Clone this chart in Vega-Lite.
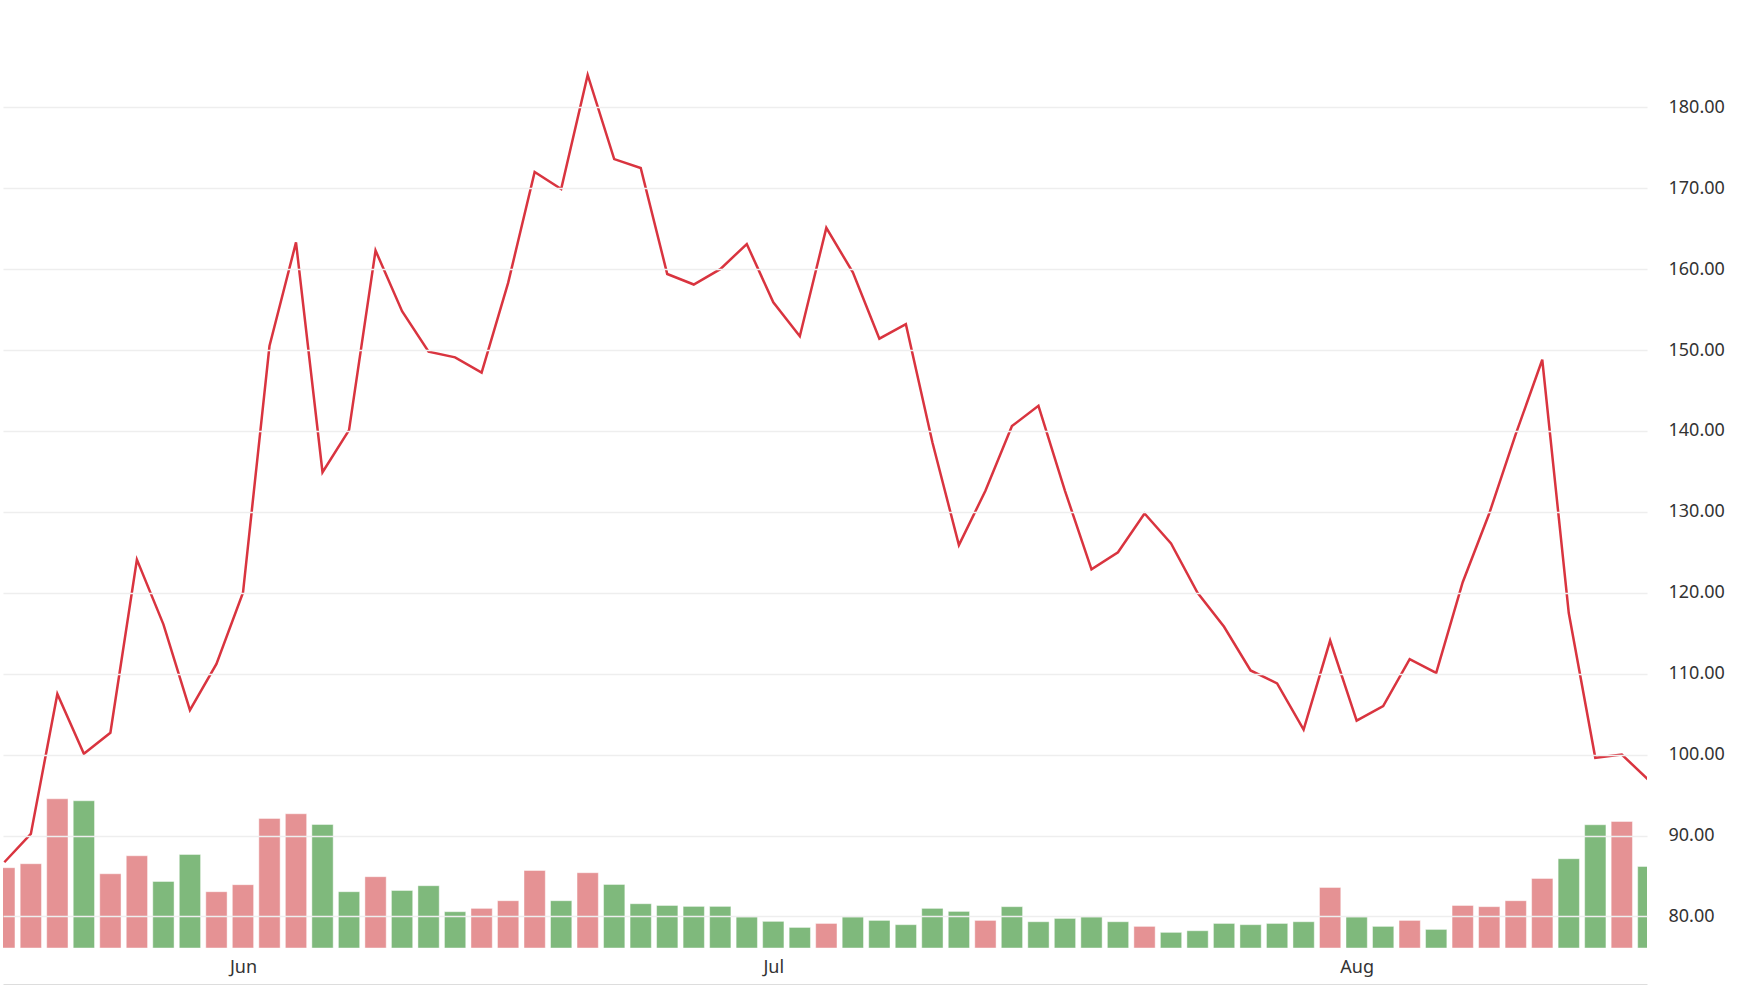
{
  "$schema": "https://vega.github.io/schema/vega-lite/v6.json",
  "width": 1644,
  "height": 948,
  "autosize": {"type": "none"},
  "padding": {"left": 3, "top": 0, "right": 93, "bottom": 41},
  "background": "#ffffff",
  "config": {
    "view": {"stroke": null},
    "font": "Noto Sans",
    "axis": {"labelFont": "Noto Sans", "labelFontSize": 18, "labelColor": "#333333"}
  },
  "data": {
    "values": [
      {"i": 0, "price": 86.7, "volume": 84.7, "dir": "up"},
      {"i": 1, "price": 90.2, "volume": 88.9, "dir": "up"},
      {"i": 2, "price": 107.5, "volume": 157.4, "dir": "up"},
      {"i": 3, "price": 100.1, "volume": 155.3, "dir": "down"},
      {"i": 4, "price": 102.7, "volume": 78.3, "dir": "up"},
      {"i": 5, "price": 124.1, "volume": 97.3, "dir": "up"},
      {"i": 6, "price": 116.1, "volume": 70.2, "dir": "down"},
      {"i": 7, "price": 105.5, "volume": 98.7, "dir": "down"},
      {"i": 8, "price": 111.2, "volume": 59.4, "dir": "up"},
      {"i": 9, "price": 120.0, "volume": 66.8, "dir": "up"},
      {"i": 10, "price": 150.5, "volume": 136.7, "dir": "up"},
      {"i": 11, "price": 163.3, "volume": 141.6, "dir": "up"},
      {"i": 12, "price": 134.9, "volume": 130.3, "dir": "down"},
      {"i": 13, "price": 140.1, "volume": 59.4, "dir": "down"},
      {"i": 14, "price": 162.3, "volume": 75.2, "dir": "up"},
      {"i": 15, "price": 154.8, "volume": 60.7, "dir": "down"},
      {"i": 16, "price": 149.8, "volume": 65.7, "dir": "down"},
      {"i": 17, "price": 149.1, "volume": 38.3, "dir": "down"},
      {"i": 18, "price": 147.2, "volume": 41.8, "dir": "up"},
      {"i": 19, "price": 158.3, "volume": 49.9, "dir": "up"},
      {"i": 20, "price": 172.0, "volume": 81.8, "dir": "up"},
      {"i": 21, "price": 169.9, "volume": 49.9, "dir": "down"},
      {"i": 22, "price": 184.0, "volume": 79.4, "dir": "up"},
      {"i": 23, "price": 173.6, "volume": 67.1, "dir": "down"},
      {"i": 24, "price": 172.5, "volume": 46.7, "dir": "down"},
      {"i": 25, "price": 159.4, "volume": 44.9, "dir": "down"},
      {"i": 26, "price": 158.1, "volume": 43.9, "dir": "down"},
      {"i": 27, "price": 160.0, "volume": 43.9, "dir": "down"},
      {"i": 28, "price": 163.1, "volume": 32.7, "dir": "down"},
      {"i": 29, "price": 155.9, "volume": 28.1, "dir": "down"},
      {"i": 30, "price": 151.7, "volume": 21.7, "dir": "down"},
      {"i": 31, "price": 165.1, "volume": 25.9, "dir": "up"},
      {"i": 32, "price": 159.6, "volume": 32.7, "dir": "down"},
      {"i": 33, "price": 151.4, "volume": 29.1, "dir": "down"},
      {"i": 34, "price": 153.2, "volume": 24.6, "dir": "down"},
      {"i": 35, "price": 138.6, "volume": 41.8, "dir": "down"},
      {"i": 36, "price": 125.9, "volume": 38.6, "dir": "down"},
      {"i": 37, "price": 132.6, "volume": 29.1, "dir": "up"},
      {"i": 38, "price": 140.6, "volume": 43.6, "dir": "down"},
      {"i": 39, "price": 143.1, "volume": 27.7, "dir": "down"},
      {"i": 40, "price": 132.6, "volume": 31.2, "dir": "down"},
      {"i": 41, "price": 122.9, "volume": 32.7, "dir": "down"},
      {"i": 42, "price": 125.0, "volume": 27.7, "dir": "down"},
      {"i": 43, "price": 129.8, "volume": 22.8, "dir": "up"},
      {"i": 44, "price": 126.1, "volume": 16.5, "dir": "down"},
      {"i": 45, "price": 120.0, "volume": 18.2, "dir": "down"},
      {"i": 46, "price": 115.8, "volume": 25.9, "dir": "down"},
      {"i": 47, "price": 110.4, "volume": 24.6, "dir": "down"},
      {"i": 48, "price": 108.8, "volume": 25.9, "dir": "down"},
      {"i": 49, "price": 103.1, "volume": 27.7, "dir": "down"},
      {"i": 50, "price": 114.1, "volume": 63.9, "dir": "up"},
      {"i": 51, "price": 104.2, "volume": 32.7, "dir": "down"},
      {"i": 52, "price": 106.0, "volume": 22.8, "dir": "down"},
      {"i": 53, "price": 111.8, "volume": 29.1, "dir": "up"},
      {"i": 54, "price": 110.1, "volume": 19.6, "dir": "down"},
      {"i": 55, "price": 121.3, "volume": 44.9, "dir": "up"},
      {"i": 56, "price": 129.8, "volume": 43.6, "dir": "up"},
      {"i": 57, "price": 139.6, "volume": 49.9, "dir": "up"},
      {"i": 58, "price": 148.8, "volume": 73.4, "dir": "up"},
      {"i": 59, "price": 117.5, "volume": 94.2, "dir": "down"},
      {"i": 60, "price": 99.6, "volume": 130.0, "dir": "down"},
      {"i": 61, "price": 100.0, "volume": 133.5, "dir": "up"},
      {"i": 62, "price": 96.9, "volume": 86.0, "dir": "down"}
    ]
  },
  "encoding": {
    "x": {
      "field": "i",
      "type": "quantitative",
      "scale": {"domain": [-0.05, 61.95], "nice": false, "zero": false, "padding": 0},
      "axis": {
        "values": [9, 29, 51],
        "labelExpr": "datum.value == 9 ? 'Jun' : datum.value == 29 ? 'Jul' : 'Aug'",
        "title": null,
        "grid": false,
        "ticks": false,
        "domain": true,
        "domainColor": "#dddddd",
        "domainWidth": 1,
        "offset": 36,
        "labelPadding": -26,
        "labelFlush": false,
        "labelOverlap": false
      }
    }
  },
  "layer": [
    {
      "mark": {"type": "bar", "size": 21.3, "clip": true, "stroke": "#ffffff", "strokeOpacity": 0.45, "strokeWidth": 1},
      "encoding": {
        "y": {
          "field": "volume",
          "type": "quantitative",
          "scale": {"domain": [0, 1000], "nice": false},
          "axis": null
        },
        "color": {
          "field": "dir",
          "type": "nominal",
          "scale": {"domain": ["up", "down"], "range": ["#e59294", "#7fb97c"]},
          "legend": null
        }
      }
    },
    {
      "mark": {"type": "line", "color": "#d9343f", "strokeWidth": 2.5, "clip": true},
      "encoding": {
        "y": {
          "field": "price",
          "type": "quantitative",
          "scale": {"domain": [76.1, 193.26], "nice": false, "zero": false},
          "axis": {
            "orient": "right",
            "values": [80, 90, 100, 110, 120, 130, 140, 150, 160, 170, 180],
            "format": ".2f",
            "title": null,
            "ticks": false,
            "domain": false,
            "grid": true,
            "gridColor": "#eeeeee",
            "gridWidth": 1.5,
            "labelPadding": 21,
            "zindex": 1
          }
        }
      }
    }
  ],
  "resolve": {"scale": {"y": "independent"}}
}
